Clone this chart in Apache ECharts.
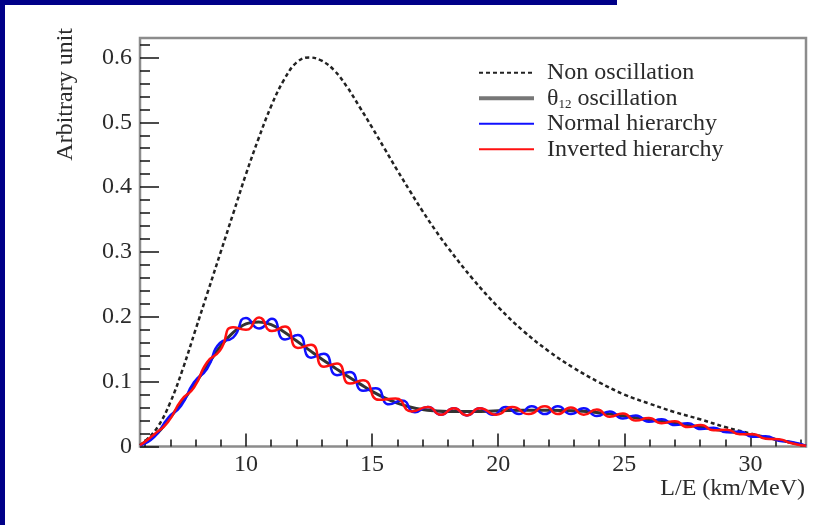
<!DOCTYPE html>
<html>
<head>
<meta charset="utf-8">
<script src="https://cdn.jsdelivr.net/npm/echarts@6/dist/echarts.min.js"></script>
<style>
  html, body { margin: 0; padding: 0; background: #fff; }
  #chart { width: 840px; height: 525px; }
</style>
</head>
<body>
<div id="chart"></div>
<script>
// L/E range of the spectrum (km/MeV)
const X_MIN = 5.8;
const X_MAX = 32.2;
const Y_MIN = 0;
const Y_MAX = 0.63;

// Tick positions
const xMajorTicks = [10, 15, 20, 25, 30];
const xMinorTicks = [6, 7, 8, 9, 11, 12, 13, 14, 16, 17, 18, 19, 21, 22, 23, 24, 26, 27, 28, 29, 31, 32];
const yMajorTicks = [0, 0.1, 0.2, 0.3, 0.4, 0.5, 0.6];
const yMinorTicks = [0.02, 0.04, 0.06, 0.08, 0.12, 0.14, 0.16, 0.18, 0.22, 0.24, 0.26, 0.28,
                     0.32, 0.34, 0.36, 0.38, 0.42, 0.44, 0.46, 0.48, 0.52, 0.54, 0.56, 0.58, 0.62];

// Smooth spectra sampled on a common L/E grid
const leGrid = [5.8, 6.0, 6.5, 7.0, 7.5, 8.0, 8.5, 9.0, 9.5, 10.0, 10.5, 11.0, 11.5, 12.0, 12.5,
                13.0, 13.5, 14.0, 14.5, 15.0, 15.5, 16.0, 16.5, 17.0, 17.5, 18.0, 19.0, 20.0, 21.0,
                22.0, 23.0, 24.0, 25.0, 26.0, 27.0, 28.0, 29.0, 30.0, 31.0, 32.2];
const nonOscillation = [0.002, 0.008, 0.030, 0.068, 0.120, 0.180, 0.240, 0.300, 0.360, 0.420, 0.475,
                        0.525, 0.565, 0.592, 0.600, 0.595, 0.580, 0.555, 0.524, 0.492, 0.459, 0.426,
                        0.394, 0.363, 0.334, 0.307, 0.258, 0.215, 0.178, 0.147, 0.121, 0.099, 0.080,
                        0.066, 0.053, 0.042, 0.030, 0.020, 0.011, 0.001];
const theta12Osc = [0.002, 0.007, 0.021, 0.045, 0.070, 0.098, 0.127, 0.155, 0.176, 0.189, 0.192,
                    0.188, 0.177, 0.163, 0.149, 0.135, 0.122, 0.109, 0.097, 0.085, 0.075, 0.067,
                    0.061, 0.057, 0.055, 0.054, 0.054, 0.055, 0.056, 0.056, 0.055, 0.052, 0.047,
                    0.041, 0.036, 0.030, 0.024, 0.018, 0.011, 0.001];

// Normal hierarchy: fast-oscillation turning points
const nhLE = [5.80, 6.37, 6.91, 7.43, 7.94, 8.46, 8.97, 9.49, 10.00, 10.52, 11.03, 11.55, 12.06, 12.58,
              13.09, 13.61, 14.12, 14.64, 15.15, 15.67, 16.18, 16.70, 17.21, 17.73, 18.24, 18.76,
              19.27, 19.79, 20.30, 20.82, 21.33, 21.85, 22.36, 22.88, 23.39, 23.91, 24.42, 24.94,
              25.45, 25.97, 26.48, 27.00, 27.51, 28.03, 28.54, 29.06, 29.57, 30.09, 30.60, 31.12,
              31.63, 32.20];
const nhVal = [0.002, 0.015, 0.044, 0.063, 0.099, 0.120, 0.160, 0.168, 0.198, 0.182, 0.197, 0.165,
               0.172, 0.137, 0.143, 0.110, 0.115, 0.086, 0.090, 0.065, 0.071, 0.053, 0.061, 0.049,
               0.059, 0.048, 0.059, 0.049, 0.061, 0.050, 0.062, 0.050, 0.062, 0.050, 0.059, 0.047,
               0.054, 0.043, 0.048, 0.038, 0.042, 0.033, 0.036, 0.027, 0.029, 0.022, 0.023, 0.015,
               0.016, 0.009, 0.007, 0.001];

// Inverted hierarchy: fast-oscillation turning points
const ihLE = [5.80, 6.37, 6.91, 7.43, 7.94, 8.46, 8.97, 9.49, 10.00, 10.52, 11.03, 11.55, 12.06, 12.58,
              13.09, 13.61, 14.12, 14.64, 15.28, 15.93, 16.57, 17.21, 17.73, 18.24, 18.76, 19.27,
              19.92, 20.56, 21.21, 21.85, 22.36, 22.88, 23.39, 23.91, 24.42, 24.94, 25.45, 25.97,
              26.48, 27.00, 27.51, 28.03, 28.54, 29.06, 29.57, 30.09, 30.60, 31.12, 31.63, 32.20];
const ihVal = [0.002, 0.019, 0.038, 0.071, 0.091, 0.130, 0.148, 0.184, 0.180, 0.199, 0.178, 0.185,
               0.152, 0.157, 0.123, 0.128, 0.097, 0.102, 0.072, 0.074, 0.054, 0.061, 0.049, 0.059,
               0.048, 0.059, 0.049, 0.061, 0.050, 0.062, 0.050, 0.060, 0.049, 0.057, 0.046, 0.051,
               0.040, 0.044, 0.036, 0.039, 0.030, 0.033, 0.025, 0.026, 0.019, 0.019, 0.012, 0.011,
               0.005, 0.001];

const seriesNames = ['Non oscillation', 'θ12 oscillation', 'Normal hierarchy', 'Inverted hierarchy'];

const pairs = (xs, ys) => xs.map((x, i) => [x, ys[i]]);

const SERIF = "'Liberation Serif', 'DejaVu Serif', serif";
const TEXT_COLOR = '#2b2b2b';
const TICK_STYLE = { color: '#111', width: 1.5 };

const chart = echarts.init(document.getElementById('chart'), null, { renderer: 'canvas' });

const baseX = {
  type: 'value', min: X_MIN, max: X_MAX, position: 'bottom',
  axisLine: { show: false }, splitLine: { show: false }
};
const baseY = {
  type: 'value', min: Y_MIN, max: Y_MAX, position: 'left',
  axisLine: { show: false }, splitLine: { show: false }
};

chart.setOption({
  animation: false,
  backgroundColor: '#fff',
  grid: {
    left: 140, right: 34, top: 38, bottom: 78.5,
    show: true, borderColor: '#8c8c8c', borderWidth: 2.5, backgroundColor: 'transparent'
  },
  xAxis: [
    Object.assign({}, baseX, {
      axisTick: { customValues: xMajorTicks, inside: true, length: 13, lineStyle: TICK_STYLE },
      axisLabel: { customValues: xMajorTicks, margin: 6, fontFamily: SERIF, fontSize: 24, color: TEXT_COLOR }
    }),
    Object.assign({}, baseX, {
      axisTick: { customValues: xMinorTicks, inside: true, length: 7, lineStyle: TICK_STYLE },
      axisLabel: { show: false }
    })
  ],
  yAxis: [
    Object.assign({}, baseY, {
      axisTick: { customValues: yMajorTicks, inside: true, length: 19, lineStyle: TICK_STYLE },
      axisLabel: {
        customValues: yMajorTicks, margin: 8, fontFamily: SERIF, fontSize: 24, color: TEXT_COLOR,
        formatter: v => (v === 0 ? '0' : v.toFixed(1))
      }
    }),
    Object.assign({}, baseY, {
      axisTick: { customValues: yMinorTicks, inside: true, length: 10, lineStyle: TICK_STYLE },
      axisLabel: { show: false }
    })
  ],
  legend: {
    orient: 'vertical',
    left: 477, top: 60, padding: 0,
    itemWidth: 55, itemHeight: 14, itemGap: 0,
    itemStyle: { opacity: 0 },
    data: [
      { name: seriesNames[0] },
      { name: seriesNames[1], lineStyle: { color: '#777', width: 4 } },
      { name: seriesNames[2] },
      { name: seriesNames[3] }
    ],
    formatter: name => (name === seriesNames[1] ? '{t|θ}{s|12}{t| oscillation}' : name),
    textStyle: {
      fontFamily: SERIF, fontSize: 24, color: TEXT_COLOR, lineHeight: 25.5,
      padding: [0, 0, 0, 8],
      rich: {
        t: { fontFamily: SERIF, fontSize: 24, color: TEXT_COLOR, lineHeight: 25.5 },
        s: { fontFamily: SERIF, fontSize: 13, color: TEXT_COLOR, lineHeight: 12, verticalAlign: 'bottom' }
      }
    }
  },
  graphic: [
    { type: 'rect', shape: { x: 0, y: 0, width: 5, height: 525 }, style: { fill: '#000088' }, silent: true },
    { type: 'rect', shape: { x: 0, y: 0, width: 617, height: 5 }, style: { fill: '#000088' }, silent: true },
    {
      type: 'text', x: 66, y: 28, rotation: Math.PI / 2,
      style: { text: 'Arbitrary unit', fontFamily: SERIF, fontSize: 24, fill: TEXT_COLOR, align: 'right', verticalAlign: 'middle' },
      silent: true
    },
    {
      type: 'text', x: 805, y: 489,
      style: { text: 'L/E (km/MeV)', fontFamily: SERIF, fontSize: 24, fill: TEXT_COLOR, align: 'right', verticalAlign: 'middle' },
      silent: true
    }
  ],
  series: [
    {
      name: seriesNames[0], type: 'line', data: pairs(leGrid, nonOscillation),
      smooth: 0.4, symbol: 'none',
      lineStyle: { color: '#222', width: 2.5, type: [4, 3] },
      itemStyle: { color: '#222' }
    },
    {
      name: seriesNames[1], type: 'line', data: pairs(leGrid, theta12Osc),
      smooth: 0.4, symbol: 'none',
      lineStyle: { color: '#333', width: 3 },
      itemStyle: { color: '#555' }
    },
    {
      name: seriesNames[2], type: 'line', data: pairs(nhLE, nhVal),
      smooth: 0.6, symbol: 'none',
      lineStyle: { color: '#1010ff', width: 2.5 },
      itemStyle: { color: '#1010ff' }
    },
    {
      name: seriesNames[3], type: 'line', data: pairs(ihLE, ihVal),
      smooth: 0.6, symbol: 'none',
      lineStyle: { color: '#ff1010', width: 2.5 },
      itemStyle: { color: '#ff1010' }
    }
  ]
});
</script>
</body>
</html>
